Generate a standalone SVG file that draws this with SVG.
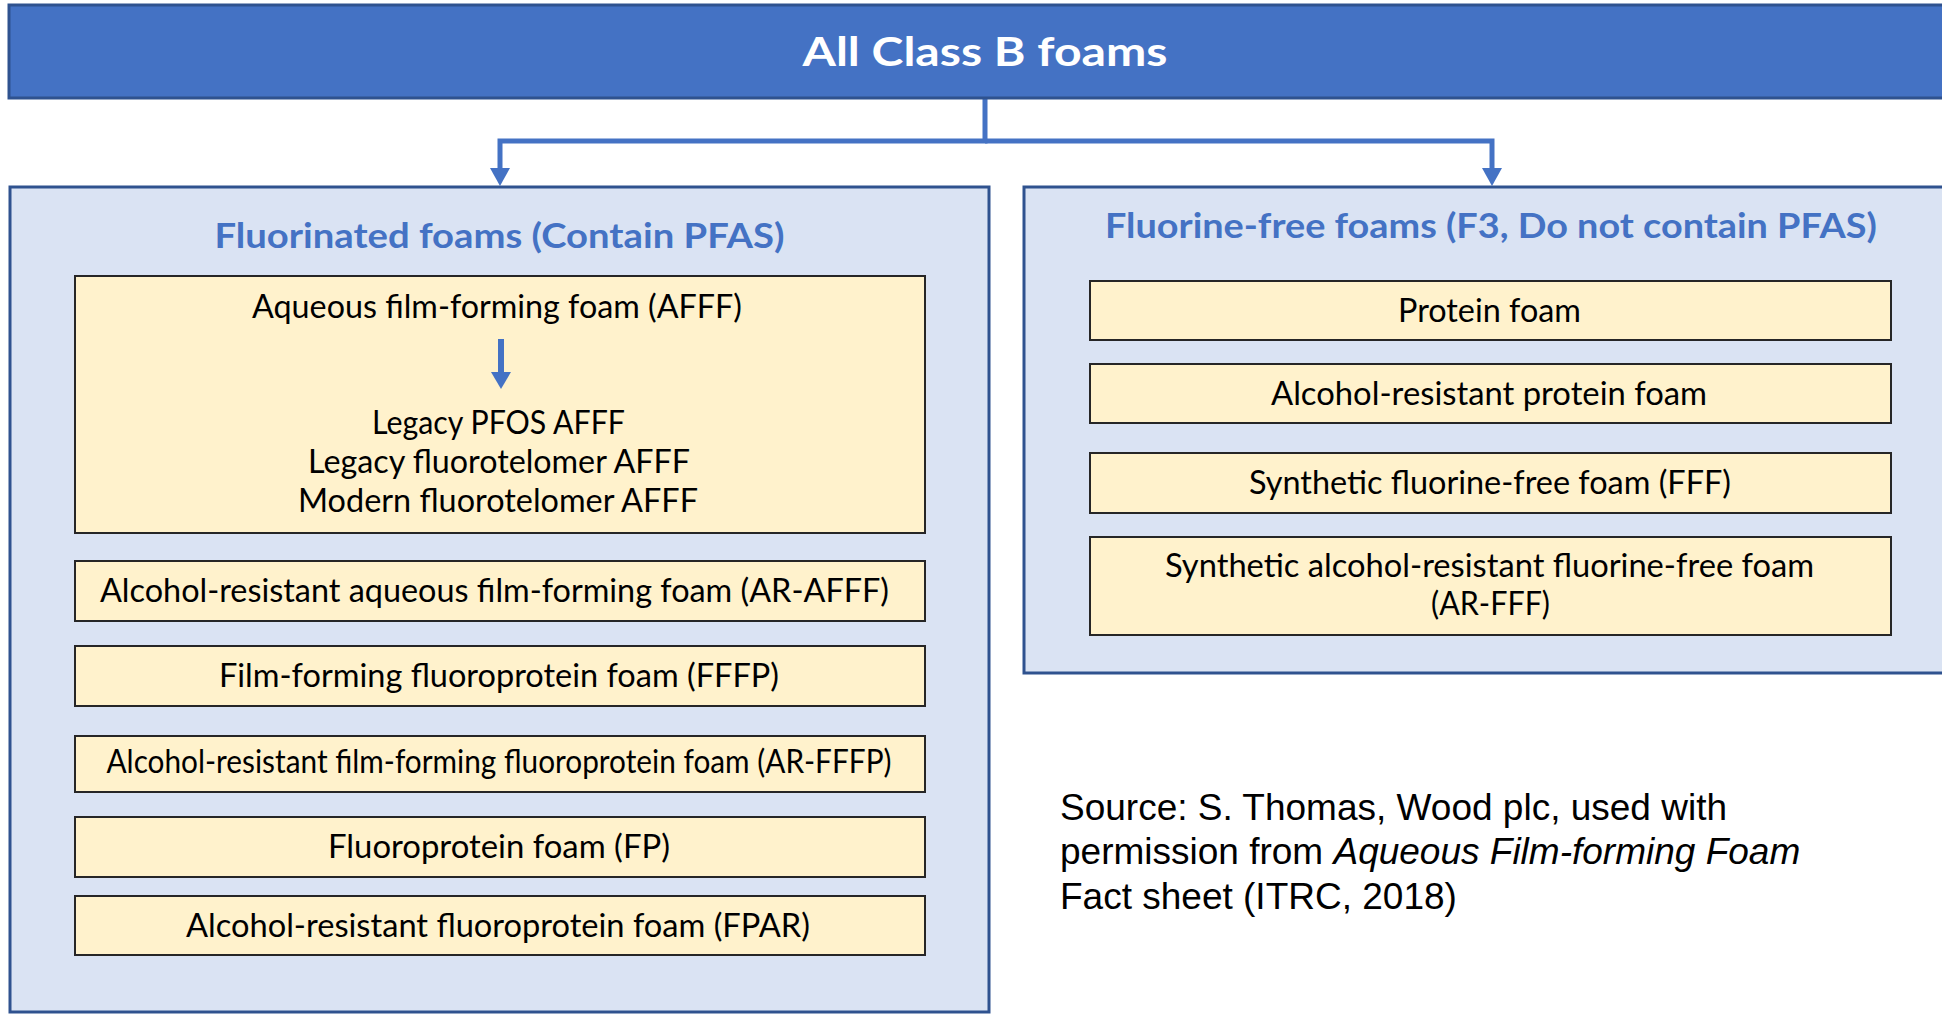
<svg xmlns="http://www.w3.org/2000/svg" width="1942" height="1014" viewBox="0 0 1942 1014">
  <style>
    .bar { fill: #4472C4; stroke: #2F528F; stroke-width: 3; }
    .panel { fill: #DAE3F3; stroke: #2F528F; stroke-width: 3; }
    .box { fill: #FFF2CC; stroke: #262626; stroke-width: 2; }
    .head { font-family: Lato, "Open Sans", sans-serif; font-weight: 700; text-anchor: middle; }
    .main { fill: #FFFFFF; font-size: 41px; }
    .sub { fill: #4472C4; font-size: 35px; }
    .item { font-family: Lato, "Open Sans", sans-serif; font-size: 32px; fill: #000000; text-anchor: middle; }
    .note { font-family: "Liberation Sans", Arial, sans-serif; font-size: 37px; fill: #000000; }
    .link { fill: none; stroke: #4472C4; stroke-width: 5; stroke-linejoin: miter; }
    .inner { fill: none; stroke: #4472C4; stroke-width: 6; }
  </style>
  <defs>
    <marker id="arrow" markerUnits="userSpaceOnUse" viewBox="0 -10 18 20" markerWidth="18" markerHeight="20" refX="0" refY="0" orient="auto">
      <path d="M0,-10 L18,0 L0,10 Z" fill="#4472C4"/>
    </marker>
    <marker id="arrow-small" markerUnits="userSpaceOnUse" viewBox="0 -10 17 20" markerWidth="17" markerHeight="20" refX="0" refY="0" orient="auto">
      <path d="M0,-10 L17,0 L0,10 Z" fill="#4472C4"/>
    </marker>
  </defs>

  <!-- connectors from the top bar to both families -->
  <g id="connectors">
    <path class="link" d="M985,98 V141 H500 V168" marker-end="url(#arrow)"/>
    <path class="link" d="M985,141 H1492 V168" marker-end="url(#arrow)"/>
  </g>

  <!-- top bar -->
  <g id="all-class-b">
    <rect class="bar" x="9" y="5" width="1945" height="93"/>
    <text class="head main" x="985" y="66" textLength="365" lengthAdjust="spacingAndGlyphs">All Class B foams</text>
  </g>

  <!-- fluorinated family -->
  <g id="fluorinated">
    <rect class="panel" x="10" y="187" width="979" height="825"/>
    <text class="head sub" x="499.5" y="248" textLength="570" lengthAdjust="spacingAndGlyphs">Fluorinated foams (Contain PFAS)</text>
  </g>

  <g id="afff">
    <rect class="box" x="75" y="276" width="850" height="257"/>
    <text class="item" x="497" y="318" textLength="490" lengthAdjust="spacingAndGlyphs">Aqueous film-forming foam (AFFF)</text>
    <path class="inner" d="M501,339 V372" marker-end="url(#arrow-small)"/>
    <text class="item" x="498.5" y="434" textLength="253" lengthAdjust="spacingAndGlyphs">Legacy PFOS AFFF</text>
    <text class="item" x="499" y="473" textLength="382" lengthAdjust="spacingAndGlyphs">Legacy fluorotelomer AFFF</text>
    <text class="item" x="498" y="512" textLength="400" lengthAdjust="spacingAndGlyphs">Modern fluorotelomer AFFF</text>
  </g>

  <g id="ar-afff">
    <rect class="box" x="75" y="561" width="850" height="60"/>
    <text class="item" x="494.5" y="602" textLength="789" lengthAdjust="spacingAndGlyphs">Alcohol-resistant aqueous film-forming foam (AR-AFFF)</text>
  </g>

  <g id="fffp">
    <rect class="box" x="75" y="646" width="850" height="60"/>
    <text class="item" x="499" y="687" textLength="560" lengthAdjust="spacingAndGlyphs">Film-forming fluoroprotein foam (FFFP)</text>
  </g>

  <g id="ar-fffp">
    <rect class="box" x="75" y="736" width="850" height="56"/>
    <text class="item" x="499" y="773" textLength="785" lengthAdjust="spacingAndGlyphs">Alcohol-resistant film-forming fluoroprotein foam (AR-FFFP)</text>
  </g>

  <g id="fp">
    <rect class="box" x="75" y="817" width="850" height="60"/>
    <text class="item" x="499" y="858" textLength="342" lengthAdjust="spacingAndGlyphs">Fluoroprotein foam (FP)</text>
  </g>

  <g id="fpar">
    <rect class="box" x="75" y="896" width="850" height="59"/>
    <text class="item" x="498" y="937" textLength="624" lengthAdjust="spacingAndGlyphs">Alcohol-resistant fluoroprotein foam (FPAR)</text>
  </g>

  <!-- fluorine-free family -->
  <g id="fluorine-free">
    <rect class="panel" x="1024" y="187" width="930" height="486"/>
    <text class="head sub" x="1491" y="238" textLength="772" lengthAdjust="spacingAndGlyphs">Fluorine-free foams (F3, Do not contain PFAS)</text>
  </g>

  <g id="protein">
    <rect class="box" x="1090" y="281" width="801" height="59"/>
    <text class="item" x="1489.5" y="322" textLength="183" lengthAdjust="spacingAndGlyphs">Protein foam</text>
  </g>

  <g id="ar-protein">
    <rect class="box" x="1090" y="364" width="801" height="59"/>
    <text class="item" x="1489" y="405" textLength="436" lengthAdjust="spacingAndGlyphs">Alcohol-resistant protein foam</text>
  </g>

  <g id="fff">
    <rect class="box" x="1090" y="453" width="801" height="60"/>
    <text class="item" x="1490" y="494" textLength="482" lengthAdjust="spacingAndGlyphs">Synthetic fluorine-free foam (FFF)</text>
  </g>

  <g id="ar-fff">
    <rect class="box" x="1090" y="537" width="801" height="98"/>
    <text class="item" x="1489.5" y="577" textLength="649" lengthAdjust="spacingAndGlyphs">Synthetic alcohol-resistant fluorine-free foam</text>
    <text class="item" x="1490.5" y="615" textLength="119" lengthAdjust="spacingAndGlyphs">(AR-FFF)</text>
  </g>

  <!-- credit line -->
  <g id="source">
    <text class="note" x="1060" y="820">Source: S. Thomas, Wood plc, used with</text>
    <text class="note" x="1060" y="864">permission from <tspan font-style="italic">Aqueous Film-forming Foam</tspan></text>
    <text class="note" x="1060" y="909">Fact sheet (ITRC, 2018)</text>
  </g>
</svg>
